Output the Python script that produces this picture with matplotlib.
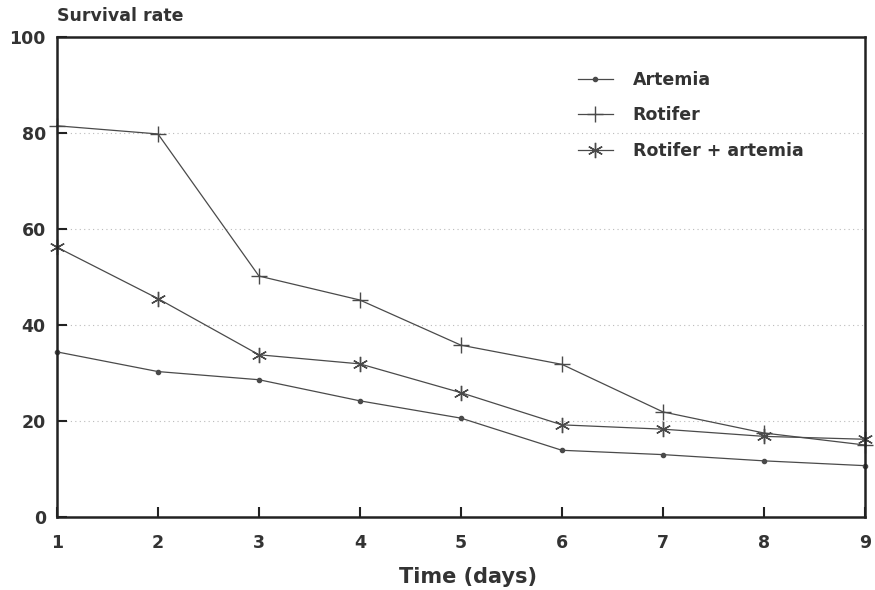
import matplotlib
matplotlib.use("Agg")
import matplotlib.pyplot as plt

days = [1, 2, 3, 4, 5, 6, 7, 8, 9]
artemia = [34.4, 30.3, 28.6, 24.2, 20.6, 13.9, 13.0, 11.7, 10.7]
rotifer = [81.5, 79.8, 50.2, 45.2, 35.8, 31.8, 21.9, 17.5, 15.0]
rotifer_artemia = [56.2, 45.5, 33.8, 31.9, 25.9, 19.2, 18.3, 16.8, 16.2]
xticks = [1, 2, 3, 4, 5, 6, 7, 8, 9]
yticks = [0, 20, 40, 60, 80, 100]

plt.rcParams['font.family'] = ['DejaVu Sans']
txt = '#333333'
lc = '#4a4a4a'

fig = plt.figure(figsize=(8.75, 5.9), dpi=100)
ax = fig.add_axes([0.0651, 0.1237, 0.9234, 0.8136])

for y in [20, 40, 60, 80]:
    ax.axhline(y, color='#bbbbbb', lw=0.8, ls=(0, (1, 3)), zorder=0)

ax.plot(days, artemia, color=lc, lw=0.9, marker='o', ms=3, label='Artemia',
        clip_on=False)
ax.plot(days, rotifer, color=lc, lw=0.9, marker='+', ms=12, mew=1.0, label='Rotifer',
        clip_on=False)
ax.plot(days, rotifer_artemia, color=lc, lw=0.9, marker=(6, 2, 0), ms=11, mew=1.0,
        label='Rotifer + artemia', clip_on=False)

ax.set_xlim(1, 9)
ax.set_ylim(0, 100)
ax.set_xticks(xticks)
ax.set_yticks(yticks)
ax.tick_params(axis='both', direction='in', length=7, width=1.5, color='#222222',
               labelsize=12.5, labelcolor=txt)
ax.tick_params(axis='x', pad=12)
ax.tick_params(axis='y', pad=8)
for lbl in ax.get_xticklabels() + ax.get_yticklabels():
    lbl.set_fontweight('bold')
for s in ax.spines.values():
    s.set_linewidth(1.8)
    s.set_color('#222222')

ax.set_xlabel('Time (days)', fontsize=15, fontweight='bold', color=txt, labelpad=11)
ax.xaxis.label.set_x(0.509)
fig.text(57 / 875, 1 - 16 / 590, 'Survival rate', fontsize=12.5, fontweight='bold',
         color=txt, ha='left', va='center')

leg = ax.legend(loc='upper left', bbox_to_anchor=(0.645, 0.93), frameon=False,
                borderaxespad=0, borderpad=0,
                fontsize=12.5, handlelength=2.0, handletextpad=1.15, labelspacing=1.03,
                labelcolor=txt)
for t in leg.get_texts():
    t.set_fontweight('bold')

fig.savefig('out.png', dpi=100)
